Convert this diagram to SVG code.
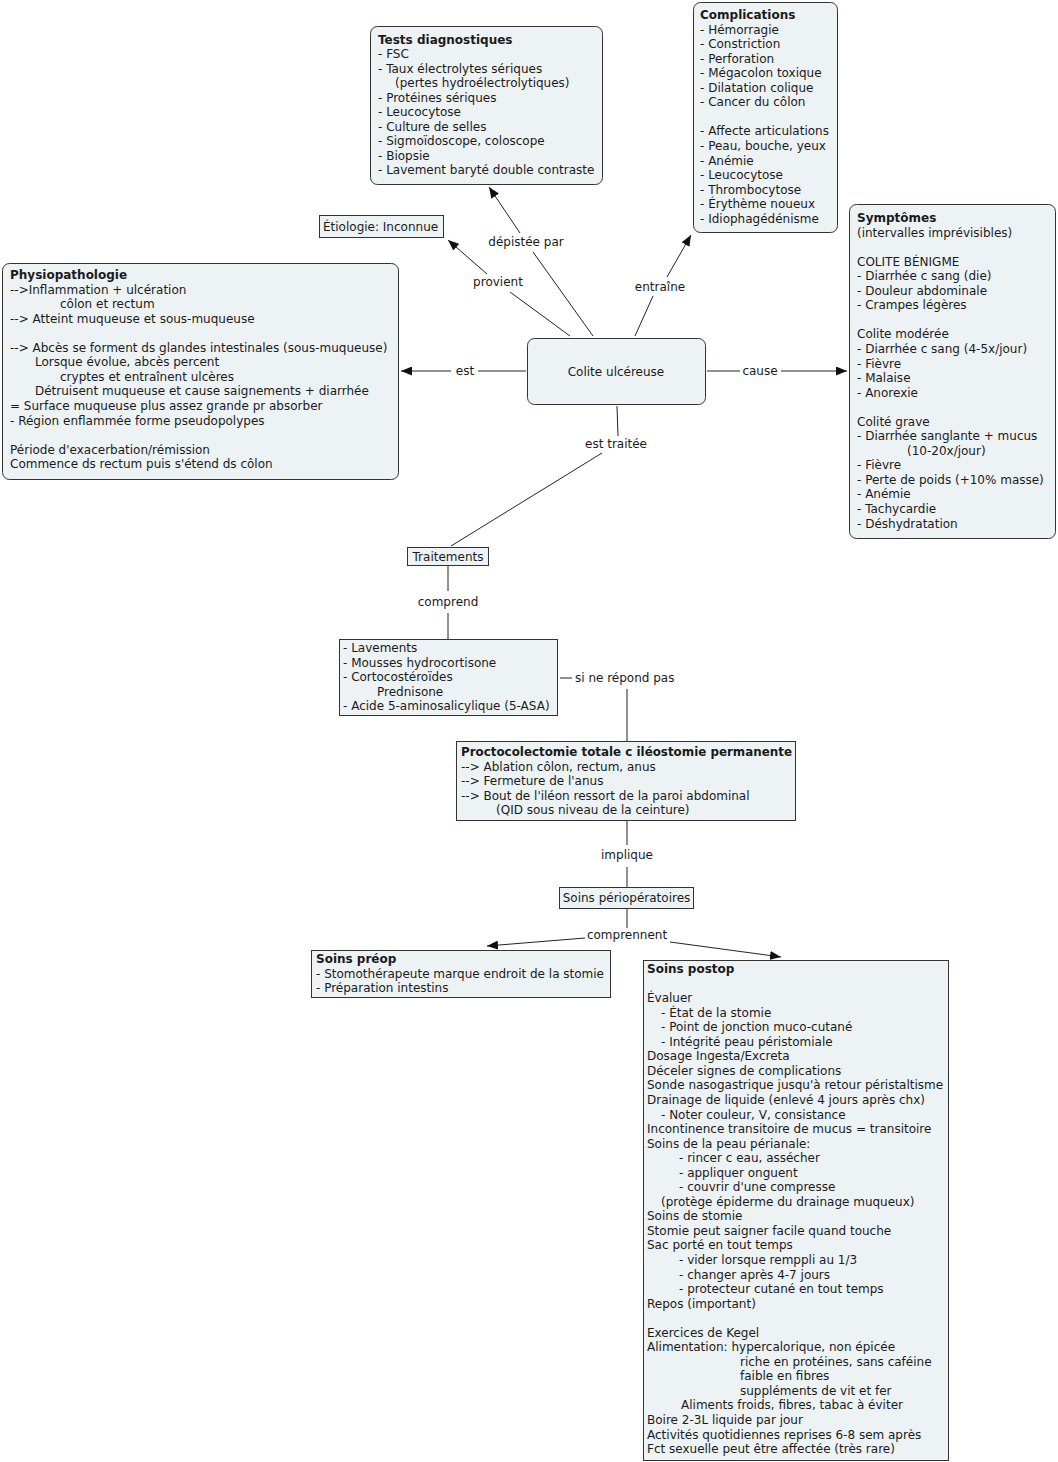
<svg xmlns="http://www.w3.org/2000/svg" width="1058" height="1462" viewBox="0 0 1058 1462">
<style>
.t{font-family:"DejaVu Sans",Verdana,sans-serif;font-size:12px;fill:#1a1a1a}
.b{font-weight:bold}
.n{fill:#edf3f5;stroke:#333;stroke-width:1}
.c{stroke:#222;stroke-width:1;fill:none}
.l{text-anchor:middle}
</style>
<defs>
<marker id="ar" markerWidth="11" markerHeight="9" refX="11" refY="4.5" orient="auto" markerUnits="userSpaceOnUse">
<path d="M0,0 L11,4.5 L0,9 z" fill="#111"/>
</marker>
</defs>
<rect width="1058" height="1462" fill="#fff"/>

<g id="connectors">
<line class="c" x1="526" y1="371" x2="478" y2="371"/>
<line class="c" x1="451" y1="371" x2="401" y2="371" marker-end="url(#ar)"/>
<text class="t l" x="465" y="375">est</text>
<line class="c" x1="707" y1="371" x2="740" y2="371"/>
<line class="c" x1="781" y1="371" x2="847" y2="371" marker-end="url(#ar)"/>
<text class="t l" x="760" y="375">cause</text>
<line class="c" x1="570" y1="336" x2="510" y2="292"/>
<line class="c" x1="487" y1="274" x2="448" y2="240" marker-end="url(#ar)"/>
<text class="t l" x="498" y="286">provient</text>
<line class="c" x1="593" y1="336" x2="533" y2="252"/>
<line class="c" x1="520" y1="233" x2="489" y2="187" marker-end="url(#ar)"/>
<text class="t l" x="526" y="246">dépistée par</text>
<line class="c" x1="635" y1="336" x2="653" y2="296"/>
<line class="c" x1="667" y1="277" x2="691" y2="235" marker-end="url(#ar)"/>
<text class="t l" x="660" y="291">entraîne</text>
<line class="c" x1="617" y1="406" x2="618" y2="436"/>
<text class="t l" x="616" y="448">est traitée</text>
<line class="c" x1="602" y1="453" x2="451" y2="546"/>
<line class="c" x1="448" y1="566" x2="448" y2="591"/>
<text class="t l" x="448" y="606">comprend</text>
<line class="c" x1="448" y1="613" x2="448" y2="639"/>
<line class="c" x1="560" y1="678" x2="572" y2="678"/>
<text class="t" x="575" y="682">si ne répond pas</text>
<line class="c" x1="627" y1="689" x2="627" y2="741"/>
<line class="c" x1="627" y1="821" x2="627" y2="845"/>
<text class="t l" x="627" y="859">implique</text>
<line class="c" x1="627" y1="867" x2="627" y2="887"/>
<line class="c" x1="627" y1="909" x2="627" y2="928"/>
<text class="t l" x="627" y="939">comprennent</text>
<line class="c" x1="585" y1="938" x2="487" y2="946" marker-end="url(#ar)"/>
<line class="c" x1="670" y1="942" x2="781" y2="957" marker-end="url(#ar)"/>
</g>

<g id="colite">
<rect class="n" x="527.5" y="338.5" width="178" height="66" rx="7"/>
<text class="t l" x="616" y="375.5">Colite ulcéreuse</text>
</g>

<g id="tests">
<rect class="n" x="370.5" y="26.5" width="232" height="158" rx="7"/>
<text class="t"><tspan class="b" x="378" y="43.5">Tests diagnostiques</tspan><tspan x="378" dy="14.55">- FSC</tspan><tspan x="378" dy="14.55">- Taux électrolytes sériques</tspan><tspan x="395" dy="14.55">(pertes hydroélectrolytiques)</tspan><tspan x="378" dy="14.55">- Protéines sériques</tspan><tspan x="378" dy="14.55">- Leucocytose</tspan><tspan x="378" dy="14.55">- Culture de selles</tspan><tspan x="378" dy="14.55">- Sigmoïdoscope, coloscope</tspan><tspan x="378" dy="14.55">- Biopsie</tspan><tspan x="378" dy="14.55">- Lavement baryté double contraste</tspan></text>
</g>

<g id="complications">
<rect class="n" x="693.5" y="2.5" width="144" height="230" rx="7"/>
<text class="t"><tspan class="b" x="700" y="19">Complications</tspan><tspan x="700" dy="14.55">- Hémorragie</tspan><tspan x="700" dy="14.55">- Constriction</tspan><tspan x="700" dy="14.55">- Perforation</tspan><tspan x="700" dy="14.55">- Mégacolon toxique</tspan><tspan x="700" dy="14.55">- Dilatation colique</tspan><tspan x="700" dy="14.55">- Cancer du côlon</tspan><tspan x="700" dy="29.1">- Affecte articulations</tspan><tspan x="700" dy="14.55">- Peau, bouche, yeux</tspan><tspan x="700" dy="14.55">- Anémie</tspan><tspan x="700" dy="14.55">- Leucocytose</tspan><tspan x="700" dy="14.55">- Thrombocytose</tspan><tspan x="700" dy="14.55">- Érythème noueux</tspan><tspan x="700" dy="14.55">- Idiophagédénisme</tspan></text>
</g>

<g id="etiologie">
<rect class="n" x="319.5" y="215.5" width="124" height="22"/>
<text class="t" x="323" y="231">Étiologie: Inconnue</text>
</g>

<g id="physiopathologie">
<rect class="n" x="2.5" y="263.5" width="396" height="216" rx="7"/>
<text class="t"><tspan class="b" x="10" y="279">Physiopathologie</tspan><tspan x="10" dy="14.55">--&gt;Inflammation + ulcération</tspan><tspan x="60" dy="14.55">côlon et rectum</tspan><tspan x="10" dy="14.55">--&gt; Atteint muqueuse et sous-muqueuse</tspan><tspan x="10" dy="29.1">--&gt; Abcès se forment ds glandes intestinales (sous-muqueuse)</tspan><tspan x="35" dy="14.55">Lorsque évolue, abcès percent</tspan><tspan x="60" dy="14.55">cryptes et entraînent ulcères</tspan><tspan x="35" dy="14.55">Détruisent muqueuse et cause saignements + diarrhée</tspan><tspan x="10" dy="14.55">= Surface muqueuse plus assez grande pr absorber</tspan><tspan x="10" dy="14.55">- Région enflammée forme pseudopolypes</tspan><tspan x="10" dy="29.1">Période d'exacerbation/rémission</tspan><tspan x="10" dy="14.55">Commence ds rectum puis s'étend ds côlon</tspan></text>
</g>

<g id="symptomes">
<rect class="n" x="849.5" y="204.5" width="206" height="334" rx="7"/>
<text class="t"><tspan class="b" x="857" y="222">Symptômes</tspan><tspan x="857" dy="14.55">(intervalles imprévisibles)</tspan><tspan x="857" dy="29.1">COLITE BÉNIGME</tspan><tspan x="857" dy="14.55">- Diarrhée c sang (die)</tspan><tspan x="857" dy="14.55">- Douleur abdominale</tspan><tspan x="857" dy="14.55">- Crampes légères</tspan><tspan x="857" dy="29.1">Colite modérée</tspan><tspan x="857" dy="14.55">- Diarrhée c sang (4-5x/jour)</tspan><tspan x="857" dy="14.55">- Fièvre</tspan><tspan x="857" dy="14.55">- Malaise</tspan><tspan x="857" dy="14.55">- Anorexie</tspan><tspan x="857" dy="29.1">Colité grave</tspan><tspan x="857" dy="14.55">- Diarrhée sanglante + mucus</tspan><tspan x="907" dy="14.55">(10-20x/jour)</tspan><tspan x="857" dy="14.55">- Fièvre</tspan><tspan x="857" dy="14.55">- Perte de poids (+10% masse)</tspan><tspan x="857" dy="14.55">- Anémie</tspan><tspan x="857" dy="14.55">- Tachycardie</tspan><tspan x="857" dy="14.55">- Déshydratation</tspan></text>
</g>

<g id="traitements">
<rect class="n" x="407.5" y="547.5" width="81" height="18"/>
<text class="t l" x="448" y="561">Traitements</text>
</g>

<g id="medicaments">
<rect class="n" x="339.5" y="639.5" width="218" height="76"/>
<text class="t"><tspan x="343" y="652">- Lavements</tspan><tspan x="343" dy="14.55">- Mousses hydrocortisone</tspan><tspan x="343" dy="14.55">- Cortocostéroïdes</tspan><tspan x="377" dy="14.55">Prednisone</tspan><tspan x="343" dy="14.55">- Acide 5-aminosalicylique (5-ASA)</tspan></text>
</g>

<g id="proctocolectomie">
<rect class="n" x="456.5" y="741.5" width="339" height="79"/>
<text class="t b" x="461" y="756" textLength="331" lengthAdjust="spacingAndGlyphs">Proctocolectomie totale c iléostomie permanente</text>
<text class="t"><tspan x="461" y="770.5">--&gt; Ablation côlon, rectum, anus</tspan><tspan x="461" dy="14.55">--&gt; Fermeture de l'anus</tspan><tspan x="461" dy="14.55">--&gt; Bout de l'iléon ressort de la paroi abdominal</tspan><tspan x="496" dy="14.55">(QID sous niveau de la ceinture)</tspan></text>
</g>

<g id="perioperatoires">
<rect class="n" x="559.5" y="887.5" width="134" height="21"/>
<text class="t l" x="626.5" y="902">Soins périopératoires</text>
</g>

<g id="preop">
<rect class="n" x="311.5" y="950.5" width="299" height="47"/>
<text class="t"><tspan class="b" x="316" y="963">Soins préop</tspan><tspan x="316" dy="14.55">- Stomothérapeute marque endroit de la stomie</tspan><tspan x="316" dy="14.55">- Préparation intestins</tspan></text>
</g>

<g id="postop">
<rect class="n" x="643.5" y="960.5" width="305" height="500"/>
<text class="t"><tspan class="b" x="647" y="973">Soins postop</tspan><tspan x="647" dy="29.1">Évaluer</tspan><tspan x="661" dy="14.55">- État de la stomie</tspan><tspan x="661" dy="14.55">- Point de jonction muco-cutané</tspan><tspan x="661" dy="14.55">- Intégrité peau péristomiale</tspan><tspan x="647" dy="14.55">Dosage Ingesta/Excreta</tspan><tspan x="647" dy="14.55">Déceler signes de complications</tspan><tspan x="647" dy="14.55">Sonde nasogastrique jusqu'à retour péristaltisme</tspan><tspan x="647" dy="14.55">Drainage de liquide (enlevé 4 jours après chx)</tspan><tspan x="661" dy="14.55">- Noter couleur, V, consistance</tspan><tspan x="647" dy="14.55">Incontinence transitoire de mucus = transitoire</tspan><tspan x="647" dy="14.55">Soins de la peau périanale:</tspan><tspan x="679" dy="14.55">- rincer c eau, assécher</tspan><tspan x="679" dy="14.55">- appliquer onguent</tspan><tspan x="679" dy="14.55">- couvrir d'une compresse</tspan><tspan x="661" dy="14.55">(protège épiderme du drainage muqueux)</tspan><tspan x="647" dy="14.55">Soins de stomie</tspan><tspan x="647" dy="14.55">Stomie peut saigner facile quand touche</tspan><tspan x="647" dy="14.55">Sac porté en tout temps</tspan><tspan x="679" dy="14.55">- vider lorsque remppli au 1/3</tspan><tspan x="679" dy="14.55">- changer après 4-7 jours</tspan><tspan x="679" dy="14.55">- protecteur cutané en tout temps</tspan><tspan x="647" dy="14.55">Repos (important)</tspan><tspan x="647" dy="29.1">Exercices de Kegel</tspan><tspan x="647" dy="14.55">Alimentation: hypercalorique, non épicée</tspan><tspan x="740" dy="14.55">riche en protéines, sans caféine</tspan><tspan x="740" dy="14.55">faible en fibres</tspan><tspan x="740" dy="14.55">suppléments de vit et fer</tspan><tspan x="681" dy="14.55">Aliments froids, fibres, tabac à éviter</tspan><tspan x="647" dy="14.55">Boire 2-3L liquide par jour</tspan><tspan x="647" dy="14.55">Activités quotidiennes reprises 6-8 sem après</tspan><tspan x="647" dy="14.55">Fct sexuelle peut être affectée (très rare)</tspan></text>
</g>
</svg>
